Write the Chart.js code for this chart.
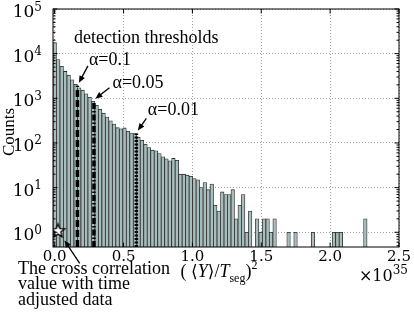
<!DOCTYPE html>
<html>
<head>
<meta charset="utf-8">
<script src="https://cdn.jsdelivr.net/npm/chart.js@4.4.1/dist/chart.umd.min.js"></script>
<style>
  html, body { margin: 0; padding: 0; background: #fff; }
</style>
</head>
<body>
<canvas id="hist" width="414" height="316"></canvas>
<script>
// histogram bins (x in units of 1e35)
const binStart = -0.0123;
const binWidth = 0.02534;
const counts = [
  17600, 7400, 5200, 4000, 3300, 2600, 2050, 1720, 1520, 1260,
  1050, 860, 700, 570, 465, 380, 315, 265, 220, 207,
  217, 183, 166, 163, 134, 115, 94, 79, 69, 67,
  58, 49, 44, 40, 45, 41, 20, 20, 19, 18,
  16, 15, 10, 13, 9, 12, 4, 3, 8, 7,
  7, 9, 2, 4, 7, 1, 3, 0, 2, 1,
  2, 2, 1, 2, 0, 0, 0, 1, 0, 1,
  0, 0, 0, 0, 1, 0, 0, 0, 0, 0,
  1, 1, 1, 0, 0, 0, 0, 0, 0, 2
];
const xTicks = [0, 0.5, 1.0, 1.5, 2.0, 2.5];
const yTicks = [1, 10, 100, 1000, 10000, 100000];
const yExponents = ["0", "1", "2", "3", "4", "5"];
const xMin = -0.0123, xMax = 2.5;
const yMin = 0.468, yMax = 100000;

// detection thresholds
const thresholdNames = ["α=0.1", "α=0.05", "α=0.01"];
const thresholdX = [0.165, 0.285, 0.593];
const thresholdTop = [1900, 840, 163];
const thresholdDash = [[7, 3], [6, 2, 1.5, 2], [2, 1.5]];

// value with time adjusted data
const starPoint = [{ x: 0.024, y: 1.1 }];
const noteLines = ["The cross correlation", "value with time", "adjusted data"];

const serif = "'Liberation Serif', 'Times New Roman', serif";
const mathSerif = "'DejaVu Serif', serif";

function makeStar(r) {
  const c = document.createElement("canvas");
  const s = Math.ceil(r * 2 + 4);
  c.width = s;
  c.height = s;
  const g = c.getContext("2d");
  g.beginPath();
  for (let k = 0; k < 10; k++) {
    const rad = k % 2 === 0 ? r : r * 0.42;
    const ang = -Math.PI / 2 + (k * Math.PI) / 5;
    const px = s / 2 + rad * Math.cos(ang);
    const py = s / 2 + 0.6 + rad * Math.sin(ang);
    if (k === 0) g.moveTo(px, py);
    else g.lineTo(px, py);
  }
  g.closePath();
  g.fillStyle = "#fff";
  g.fill();
  g.lineWidth = 1.3;
  g.strokeStyle = "#000";
  g.stroke();
  return c;
}

function arrow(ctx, x1, y1, x2, y2) {
  const a = Math.atan2(y2 - y1, x2 - x1);
  const L = 7, W = 3;
  ctx.beginPath();
  ctx.moveTo(x1, y1);
  ctx.lineTo(x2 - L * 0.8 * Math.cos(a), y2 - L * 0.8 * Math.sin(a));
  ctx.stroke();
  ctx.beginPath();
  ctx.moveTo(x2, y2);
  ctx.lineTo(x2 - L * Math.cos(a) + W * Math.sin(a), y2 - L * Math.sin(a) - W * Math.cos(a));
  ctx.lineTo(x2 - L * Math.cos(a) - W * Math.sin(a), y2 - L * Math.sin(a) + W * Math.cos(a));
  ctx.closePath();
  ctx.fill();
}

// draws text pieces one after another, [text, font, dy]
function drawPieces(ctx, pieces, x, y, align) {
  let total = 0;
  pieces.forEach((p) => {
    ctx.font = p[1];
    total += ctx.measureText(p[0]).width;
  });
  let cx = align === "center" ? x - total / 2 : align === "right" ? x - total : x;
  ctx.textAlign = "left";
  pieces.forEach((p) => {
    ctx.font = p[1];
    ctx.fillText(p[0], cx, y + p[2]);
    cx += ctx.measureText(p[0]).width;
  });
}

const decorations = {
  id: "decorations",
  afterDatasetsDraw(chart) {
    const { ctx, chartArea: a, scales: { x, y } } = chart;
    ctx.save();
    ctx.strokeStyle = "#000";
    ctx.fillStyle = "#000";
    ctx.lineWidth = 1;
    ctx.strokeRect(a.left, a.top, a.right - a.left, a.bottom - a.top);

    // ticks pointing inwards, minor ones on the log axis
    ctx.beginPath();
    for (let n = -1; n <= 5; n++) {
      for (let m = 1; m <= 9; m++) {
        const v = m * Math.pow(10, n);
        if (v < yMin || v > yMax) continue;
        const py = y.getPixelForValue(v);
        const len = m === 1 ? 4.5 : 2.5;
        ctx.moveTo(a.left, py);
        ctx.lineTo(a.left + len, py);
        ctx.moveTo(a.right, py);
        ctx.lineTo(a.right - len, py);
      }
    }
    xTicks.forEach((v) => {
      const px = x.getPixelForValue(v);
      ctx.moveTo(px, a.bottom);
      ctx.lineTo(px, a.bottom - 4.5);
      ctx.moveTo(px, a.top);
      ctx.lineTo(px, a.top + 4.5);
    });
    ctx.stroke();

    // y tick labels 10^n
    ctx.textBaseline = "alphabetic";
    yTicks.forEach((v, i) => {
      const py = y.getPixelForValue(v);
      drawPieces(ctx, [["10", "17px " + mathSerif, 0], [yExponents[i], "12px " + mathSerif, -6.5]],
        a.left - 11, py + 8, "right");
    });

    // y title
    ctx.save();
    ctx.translate(13.5, (a.top + a.bottom) / 2 + 4);
    ctx.rotate(-Math.PI / 2);
    ctx.font = "17px " + serif;
    ctx.textAlign = "center";
    ctx.fillText("Counts", 0, 0);
    ctx.restore();

    // threshold annotations
    ctx.font = "18px " + serif;
    ctx.textAlign = "left";
    ctx.fillText("detection thresholds", a.left + 21, a.top + 34);
    const tails = [[9, -17], [14, -11], [8.5, -12]];
    const labelOffsets = [[1, -1], [3, 0], [1.5, -3]];
    thresholdX.forEach((v, i) => {
      const tx = x.getPixelForValue(v) + 1.5;
      const ty = y.getPixelForValue(thresholdTop[i]) - 3;
      const sx = tx + tails[i][0];
      const sy = ty + tails[i][1];
      ctx.lineWidth = 1.3;
      arrow(ctx, sx, sy, tx, ty);
      ctx.font = "18px " + serif;
      ctx.textAlign = "left";
      ctx.fillText(thresholdNames[i], sx + labelOffsets[i][0], sy + labelOffsets[i][1]);
    });

    // arrow to the star and its note
    const stx = x.getPixelForValue(starPoint[0].x);
    const sty = y.getPixelForValue(starPoint[0].y);
    arrow(ctx, stx + 21.7, sty + 33, stx + 6.5, sty + 10);
    ctx.font = "18px " + serif;
    noteLines.forEach((t, i) => {
      ctx.fillText(t, 18, 274 + i * 15.3);
    });

    // x title and multiplier
    drawPieces(ctx, [
      ["( ", "18px " + serif, 0],
      ["\u27E8", "17px 'DejaVu Sans'", 0],
      ["Y", "italic 18px " + serif, 0],
      ["\u27E9", "17px 'DejaVu Sans'", 0],
      ["/", "18px " + serif, 0],
      ["T", "italic 18px " + serif, 0],
      ["seg", "12px " + serif, 5],
      [")", "18px " + serif, 0],
      ["2", "12px " + serif, -8],
    ], 219, 277, "center");
    drawPieces(ctx, [["\u00D710", "16px " + mathSerif, 0], ["35", "12px " + mathSerif, -7.5]],
      a.right + 9, 281, "right");
    ctx.restore();
  },
};

const barData = counts.map((c, i) => ({
  x: binStart + (i + 0.5) * binWidth,
  y: c > 0 ? c : null,
}));

const thresholdSets = thresholdX.map((v, i) => ({
  type: "line",
  data: [{ x: v, y: yMin }, { x: v, y: thresholdTop[i] }],
  borderColor: "#000",
  borderWidth: 3.5,
  borderDash: thresholdDash[i],
  pointRadius: 0,
  order: 2,
}));

new Chart(document.getElementById("hist"), {
  type: "bar",
  data: {
    datasets: [
      {
        data: barData,
        backgroundColor: "#a8bdbd",
        borderColor: "#2a2a2a",
        borderWidth: 0.8,
        barPercentage: 1,
        categoryPercentage: 1,
        order: 3,
      },
      ...thresholdSets,
      {
        type: "scatter",
        data: starPoint,
        pointStyle: makeStar(7.2),
        pointRadius: 8,
        order: 1,
      },
    ],
  },
  options: {
    responsive: false,
    animation: false,
    layout: { padding: { top: 9, right: 15, bottom: 47, left: 0 } },
    plugins: { legend: { display: false }, tooltip: { enabled: false } },
    scales: {
      x: {
        type: "linear",
        min: xMin,
        max: xMax,
        offset: false,
        afterBuildTicks: (s) => {
          s.ticks = xTicks.map((v) => ({ value: v }));
        },
        afterFit: (s) => {
          s.height = 22;
        },
        grid: { offset: false, color: "#a0a0a0", drawTicks: false },
        border: { display: false, dash: [1, 2] },
        ticks: {
          color: "#000",
          padding: 1,
          maxRotation: 0,
          autoSkip: false,
          font: { family: "DejaVu Serif", size: 15 },
          callback: (v) => Number(v).toFixed(1),
        },
      },
      y: {
        type: "logarithmic",
        min: yMin,
        max: yMax,
        afterBuildTicks: (s) => {
          s.ticks = yTicks.map((v) => ({ value: v }));
        },
        afterFit: (s) => {
          s.width = 53;
        },
        grid: { color: "#a0a0a0", drawTicks: false },
        border: { display: false, dash: [1, 2] },
        ticks: { display: false },
      },
    },
  },
  plugins: [decorations],
});
</script>
</body>
</html>
